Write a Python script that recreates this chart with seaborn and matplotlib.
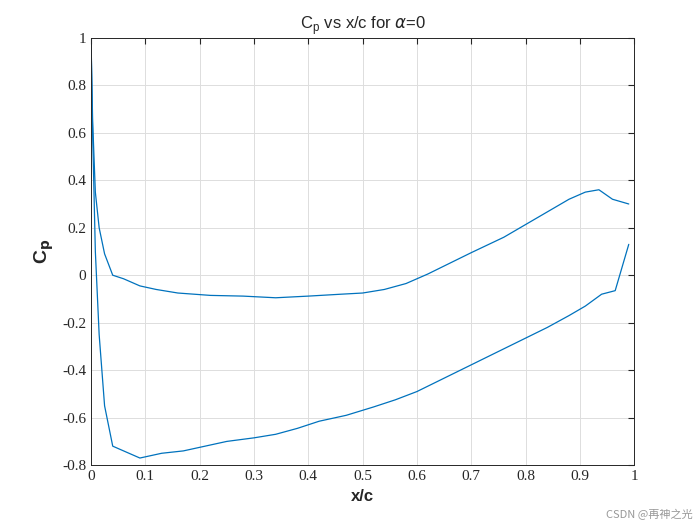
import numpy as np
import pandas as pd
import matplotlib
matplotlib.use("Agg")
import matplotlib.pyplot as plt
import seaborn as sns

# lower surface (suction dips to -0.77)
x_lower = [0.0, 0.003, 0.008, 0.015, 0.025, 0.04, 0.09, 0.13, 0.17, 0.21, 0.25, 0.30, 0.34, 0.38, 0.42, 0.47, 0.52, 0.56, 0.60, 0.64, 0.68, 0.72, 0.76, 0.80, 0.84, 0.88, 0.91, 0.94, 0.965, 0.99]
cp_lower = [1.0, 0.6, 0.1, -0.25, -0.55, -0.72, -0.77, -0.75, -0.74, -0.72, -0.70, -0.685, -0.67, -0.645, -0.615, -0.59, -0.555, -0.525, -0.49, -0.445, -0.40, -0.355, -0.31, -0.265, -0.22, -0.17, -0.13, -0.08, -0.065, 0.13]
# upper surface
x_upper = [0.0, 0.003, 0.008, 0.015, 0.025, 0.04, 0.06, 0.09, 0.12, 0.16, 0.22, 0.28, 0.34, 0.40, 0.46, 0.50, 0.54, 0.58, 0.62, 0.66, 0.70, 0.76, 0.82, 0.88, 0.91, 0.935, 0.96, 0.99]
cp_upper = [1.0, 0.65, 0.35, 0.2, 0.09, 0.0, -0.015, -0.045, -0.06, -0.075, -0.085, -0.088, -0.095, -0.088, -0.08, -0.075, -0.06, -0.035, 0.005, 0.05, 0.095, 0.16, 0.24, 0.32, 0.35, 0.36, 0.32, 0.30]

sns.set_style("white")
plt.rcParams["font.family"] = ["Liberation Sans", "DejaVu Sans"]

fig = plt.figure(figsize=(7, 5.25), dpi=100)
ax = fig.add_axes([0.13, 0.114, 0.776, 0.814])

line_color = "#0072BD"
sns.lineplot(x=x_lower, y=cp_lower, ax=ax, color=line_color, lw=0.9, sort=False, estimator=None)
sns.lineplot(x=x_upper, y=cp_upper, ax=ax, color=line_color, lw=0.9, sort=False, estimator=None)

ax.set_xlim(0, 1)
ax.set_ylim(-0.8, 1)
ax.set_xticks(np.arange(0, 1.01, 0.1))
ax.set_xticklabels(["0", "0.1", "0.2", "0.3", "0.4", "0.5", "0.6", "0.7", "0.8", "0.9", "1"])
ax.set_yticks(np.arange(-0.8, 1.01, 0.2))
ax.set_yticklabels(["-0.8", "-0.6", "-0.4", "-0.2", "0", "0.2", "0.4", "0.6", "0.8", "1"])
for lab in ax.get_xticklabels() + ax.get_yticklabels():
    lab.set_family(["Liberation Serif", "DejaVu Serif"])
    lab.set_fontsize(11)
ax.grid(True, color="#dddddd", lw=0.7)
ax.tick_params(direction="in", length=4, top=True, right=True, colors="#262626")
for s in ax.spines.values():
    s.set_color("#262626")
    s.set_linewidth(0.7)
ax.set_xlabel("x/c", fontsize=12, fontweight="bold")
ax.set_ylabel("C$_\\mathbf{p}$", fontsize=14, fontweight="bold")
ax.set_title(r"C$_\mathregular{p}$ vs x/c for $\alpha$=0", fontsize=12)
fig.text(0.99, 0.01, "CSDN @再神之光", ha="right", va="bottom", fontsize=8, color="#999999",
         family=["Noto Sans CJK SC", "DejaVu Sans"])

fig.savefig("out.png", dpi=100)
